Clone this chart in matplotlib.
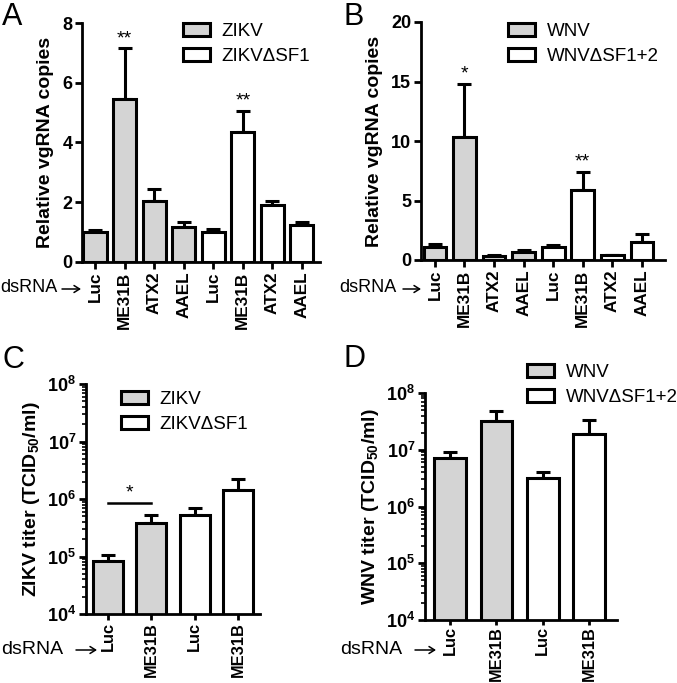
import matplotlib
matplotlib.use("Agg")
import matplotlib.pyplot as plt
import numpy as np
from matplotlib.ticker import FixedLocator, LogLocator, NullFormatter, FuncFormatter
from matplotlib.patches import Patch

plt.rcParams['font.family'] = ['Liberation Sans', 'DejaVu Sans']
plt.rcParams['mathtext.fontset'] = 'custom'
plt.rcParams['mathtext.rm'] = 'Liberation Sans'
plt.rcParams['mathtext.bf'] = 'Liberation Sans:bold'
plt.rcParams['mathtext.it'] = 'Liberation Sans:italic'

# ---------------- data ----------------
cats_ab = ["Luc", "ME31B", "ATX2", "AAEL", "Luc", "ME31B", "ATX2", "AAEL"]
cats_cd = ["Luc", "ME31B", "Luc", "ME31B"]

# Panel A (ZIKV / ZIKVdSF1) relative vgRNA copies
a_wt = [1.02, 5.45, 2.05, 1.17]
a_wt_err = [0.05, 1.70, 0.38, 0.16]
a_mut = [1.02, 4.35, 1.92, 1.25]
a_mut_err = [0.10, 0.70, 0.13, 0.08]
a_sig = ["", "**", "", "", "", "**", "", ""]

# Panel B (WNV / WNVdSF1+2)
b_wt = [1.10, 10.3, 0.35, 0.70]
b_wt_err = [0.25, 4.5, 0.10, 0.10]
b_mut = [1.10, 5.85, 0.40, 1.50]
b_mut_err = [0.20, 1.55, 0.05, 0.70]
b_sig = ["", "*", "", "", "", "**", "", ""]

# Panel C ZIKV titer
c_wt = [8.2e4, 3.9e5]
c_wt_err = [2.5e4, 1.4e5]
c_mut = [5.3e5, 1.45e6]
c_mut_err = [1.7e5, 7.5e5]

# Panel D WNV titer
d_wt = [7.3e6, 3.2e7]
d_wt_err = [1.7e6, 1.55e7]
d_mut = [3.2e6, 1.9e7]
d_mut_err = [0.8e6, 1.4e7]

GREY = "#d4d4d4"
W, H = 677, 683
fig = plt.figure(figsize=(W / 100, H / 100), dpi=100)


def ax_px(l, t, r, b):
    return fig.add_axes([l / W, 1 - b / H, (r - l) / W, (b - t) / H])


def style(ax, xlim, xsize=12.3, xlen=5.2, xpad=1.5):
    for s in ["top", "right"]:
        ax.spines[s].set_visible(False)
    for s in ["left", "bottom"]:
        ax.spines[s].set_linewidth(2.0)
    ax.set_xlim(*xlim)
    ax.tick_params(axis='y', which='major', direction='out', length=5, width=2.0,
                   labelsize=13, pad=2)
    ax.tick_params(axis='x', which='major', direction='out', length=xlen, width=2.0,
                   labelsize=xsize, pad=xpad)
    for lab in ax.get_xticklabels() + ax.get_yticklabels():
        lab.set_fontweight('bold')


def draw_bars(ax, wt, wt_err, mut, mut_err, cats, width):
    vals = list(wt) + list(mut)
    errs = list(wt_err) + list(mut_err)
    x = np.arange(len(vals))
    colors = [GREY] * len(wt) + ["white"] * len(mut)
    ax.errorbar(x, vals, yerr=[np.zeros(len(vals)), errs], fmt='none',
                ecolor='black', elinewidth=2.2, capsize=4.7, capthick=2.2, zorder=1)
    ax.bar(x, vals, width=width, color=colors, edgecolor='black', linewidth=2.2,
           zorder=2)
    ax.set_xticks(x)
    ax.set_xticklabels(cats, rotation=90, fontweight='bold')
    return x, vals, errs


def add_legend(ax, labels, loc_px):
    handles = [Patch(facecolor=GREY, edgecolor='black', linewidth=2.2),
               Patch(facecolor='white', edgecolor='black', linewidth=2.2)]
    ax.legend(handles, labels, loc='upper left',
              bbox_to_anchor=(loc_px[0] / W, 1 - loc_px[1] / H),
              bbox_transform=fig.transFigure, frameon=False, fontsize=13.5,
              handlelength=1.45, handleheight=0.7, handletextpad=0.6,
              labelspacing=0.4, borderpad=0, borderaxespad=0)


def log_fmt(v, pos):
    e = int(round(np.log10(v)))
    return r"$\mathbf{10^{%d}}$" % e


def log_axis(ax, label):
    ax.yaxis.set_major_locator(FixedLocator([1e4, 1e5, 1e6, 1e7, 1e8]))
    ax.yaxis.set_major_formatter(FuncFormatter(log_fmt))
    ax.yaxis.set_minor_locator(LogLocator(base=10, subs=np.arange(2, 10)))
    ax.yaxis.set_minor_formatter(NullFormatter())
    ax.tick_params(axis='y', which='minor', length=3, width=1.2)
    ax.set_ylabel(label, fontsize=14, fontweight='bold', labelpad=4)


# ---------------- Panel A ----------------
axA = ax_px(82, 23, 320, 262)
x, vals, errs = draw_bars(axA, a_wt, a_wt_err, a_mut, a_mut_err, cats_ab, 0.78)
axA.set_ylim(0, 8)
axA.set_yticks([0, 2, 4, 6, 8])
style(axA, (-0.44, 7.61))
axA.set_ylabel("Relative vgRNA copies", fontsize=14, fontweight='bold', labelpad=6)
for xi, v, e, s in zip(x, vals, errs, a_sig):
    if s:
        axA.annotate(s, (xi, v + e), xytext=(0, 1), textcoords='offset points',
                     ha='center', va='bottom', fontsize=14)
add_legend(axA, ["ZIKV", "ZIKV\u0394SF1"], (183, 23))

# ---------------- Panel B ----------------
axB = ax_px(421, 22, 665, 260)
x, vals, errs = draw_bars(axB, b_wt, b_wt_err, b_mut, b_mut_err, cats_ab, 0.77)
axB.set_ylim(0, 20)
axB.set_yticks([0, 5, 10, 15, 20])
style(axB, (-0.47, 7.78))
axB.set_ylabel("Relative vgRNA copies", fontsize=14, fontweight='bold', labelpad=6)
for xi, v, e, s in zip(x, vals, errs, b_sig):
    if s:
        axB.annotate(s, (xi, v + e), xytext=(0, 1), textcoords='offset points',
                     ha='center', va='bottom', fontsize=14)
add_legend(axB, ["WNV", "WNV\u0394SF1+2"], (508, 23))

# ---------------- Panel C ----------------
axC = ax_px(86, 384, 260, 614)
axC.set_yscale('log')
x, vals, errs = draw_bars(axC, c_wt, c_wt_err, c_mut, c_mut_err, cats_cd, 0.69)
axC.set_ylim(1e4, 1e8)
style(axC, (-0.51, 3.51), xsize=11.8, xlen=4.5, xpad=1)
log_axis(axC, "ZIKV titer (TCID$_{\\mathbf{50}}$/ml)")
ybar = max(vals[0] + errs[0], vals[1] + errs[1]) * 1.6
axC.plot([x[0], x[1]], [ybar, ybar], color='black', lw=1.8)
axC.annotate("*", ((x[0] + x[1]) / 2, ybar), xytext=(0, 1),
             textcoords='offset points', ha='center', va='bottom', fontsize=14)
add_legend(axC, ["ZIKV", "ZIKV\u0394SF1"], (121, 391))

# ---------------- Panel D ----------------
axD = ax_px(425, 393, 617, 620)
axD.set_yscale('log')
x, vals, errs = draw_bars(axD, d_wt, d_wt_err, d_mut, d_mut_err, cats_cd, 0.68)
axD.set_ylim(1e4, 1e8)
style(axD, (-0.54, 3.6), xsize=11.8, xlen=3.5, xpad=1)
log_axis(axD, "WNV titer (TCID$_{\\mathbf{50}}$/ml)")
add_legend(axD, ["WNV", "WNV\u0394SF1+2"], (527, 364))

# ---------------- figure texts ----------------
for lbl, px, py in [("A", 2, 2), ("B", 344, 2), ("C", 2, 345), ("D", 344, 344)]:
    fig.text(px / W, 1 - py / H, lbl, fontsize=22, ha='left', va='top')
# "dsRNA" word followed by a thin arrow
for px, a0, a1, py, fs in [(0, 62, 81, 288, 13), (339, 403, 421, 288, 13),
                           (1, 76, 97, 649, 14), (340, 415, 436, 649, 14)]:
    fig.text(px / W, 1 - py / H, "dsRNA", fontsize=fs, ha='left', va='center')
    fig.add_artist(matplotlib.patches.FancyArrowPatch(
        (a0 / W, 1 - (py + 1) / H), (a1 / W, 1 - (py + 1) / H),
        transform=fig.transFigure, arrowstyle='->,head_length=4,head_width=2.5',
        lw=1.1, color='black', shrinkA=0, shrinkB=0, mutation_scale=1))

fig.savefig("out.png", dpi=100)
